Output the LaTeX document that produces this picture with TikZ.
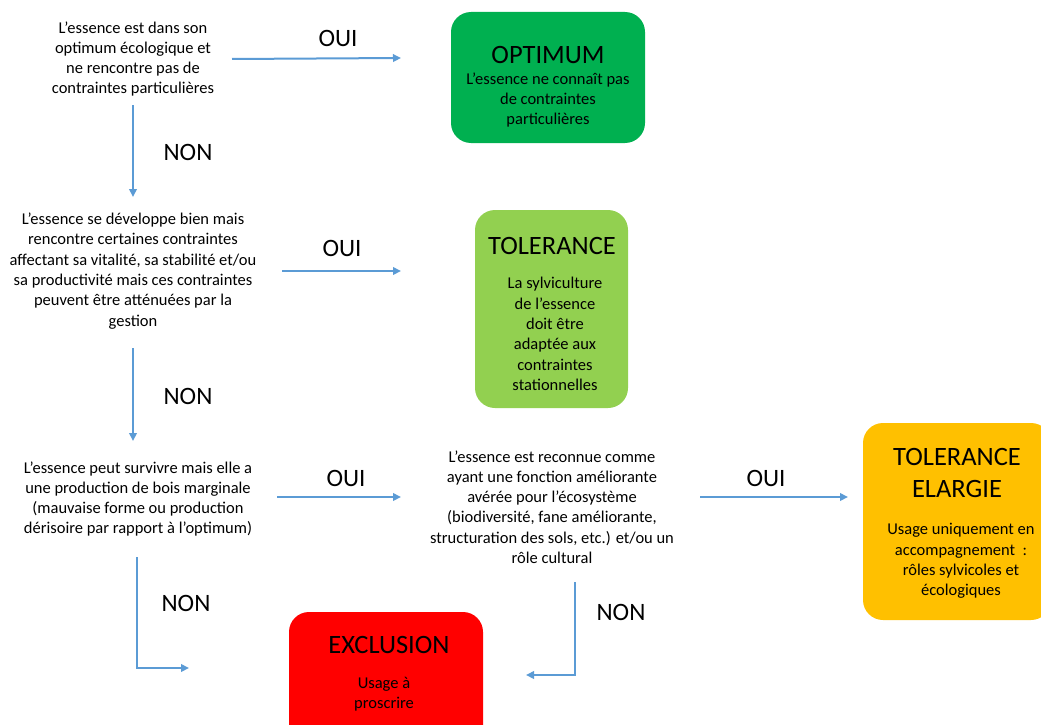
\documentclass[tikz,border=0pt]{standalone}
\usepackage{fontspec}
\setmainfont{Carlito}
\usetikzlibrary{arrows.meta}
\definecolor{arrowblue}{HTML}{5B9BD5}
\definecolor{optgreen}{HTML}{00B050}
\definecolor{tolgreen}{HTML}{92D050}
\definecolor{elargold}{HTML}{FFC000}
\definecolor{exclred}{HTML}{FF0000}
\begin{document}
\begin{tikzpicture}[x=1pt,y=-1pt,
  txt/.style={align=center, inner sep=0pt, font=\fontsize{16.5}{20.3}\selectfont},
  lbl/.style={inner sep=0pt, font=\fontsize{25}{30}\selectfont},
  ttl/.style={align=center, inner sep=0pt, font=\fontsize{26.5}{32}\selectfont},
  card/.style={rounded corners=20pt, inner sep=0pt},
  flow/.style={draw=arrowblue, line width=2pt, -{Triangle[length=8pt,width=7.5pt]}}
]
\useasboundingbox (0,0) rectangle (1041,725);
\clip (0,0) rectangle (1041,725);

% ---- result boxes ----
\node[card, fill=optgreen, minimum width=194pt, minimum height=131pt] (optbox) at (548,77.5) {};
\node[ttl] (opttitle) at (548,55) {OPTIMUM};
\node[txt] (opttext) at (548,100) {L’essence ne connaît pas\\de contraintes\\particulières};

\node[card, fill=tolgreen, minimum width=153pt, minimum height=198pt] (tolbox) at (551.5,309) {};
\node[ttl] (toltitle) at (552,246) {TOLERANCE};
\node[txt] (toltext) at (555,334) {La sylviculture\\de l’essence\\doit être\\adaptée aux\\contraintes\\stationnelles};

\node[card, fill=elargold, minimum width=188pt, minimum height=197pt] (elabox) at (957,521.5) {};
\node[ttl] (elatitle) at (957,473) {TOLERANCE\\ELARGIE};
\node[txt] (elatext) at (961,561) {Usage uniquement en\\accompagnement~~:\\rôles sylvicoles et\\écologiques};

\node[card, fill=exclred, minimum width=194pt, minimum height=140pt] (exclbox) at (386,682) {};
\node[ttl] (excltitle) at (389,645) {EXCLUSION};
\node[txt] (excltext) at (384,694) {Usage à\\proscrire};

% ---- questions ----
\node[txt] (q1) at (133,59) {L’essence est dans son\\optimum écologique et\\ne rencontre pas de\\contraintes particulières};
\node[txt] (q2) at (133,271) {L’essence se développe bien mais\\rencontre certaines contraintes\\affectant sa vitalité, sa stabilité et/ou\\sa productivité mais ces contraintes\\peuvent être atténuées par la\\gestion};
\node[txt] (q3) at (138,499) {L’essence peut survivre mais elle a\\une production de bois marginale\\(mauvaise forme ou production\\dérisoire par rapport à l’optimum)};
\node[txt] (q4) at (552,507) {L’essence est reconnue comme\\ayant une fonction améliorante\\avérée pour l’écosystème\\(biodiversité, fane améliorante,\\structuration des sols, etc.) et/ou un\\rôle cultural};

% ---- connector end points ----
\coordinate (a1s) at (232,59);   \coordinate (a1e) at (401,58);
\coordinate (n1s) at (133,105);  \coordinate (n1e) at (133,197);
\coordinate (a2s) at (282,271);  \coordinate (a2e) at (401,271);
\coordinate (n2s) at (133,348);  \coordinate (n2e) at (133,441);
\coordinate (a3s) at (277,497);  \coordinate (a3e) at (401,497);
\coordinate (a4s) at (700,497);  \coordinate (a4e) at (848,497);
\coordinate (n3s) at (137,557);  \coordinate (n3c) at (137,668); \coordinate (n3e) at (189,668);
\coordinate (n4s) at (575,582);  \coordinate (n4c) at (575,675); \coordinate (n4e) at (526,675);

% ---- connectors ----
\draw[flow] (a1s) -- (a1e);
\draw[flow] (n1s) -- (n1e);
\draw[flow] (a2s) -- (a2e);
\draw[flow] (n2s) -- (n2e);
\draw[flow] (a3s) -- (a3e);
\draw[flow] (a4s) -- (a4e);
\draw[flow] (n3s) -- (n3c) -- (n3e);
\draw[flow] (n4s) -- (n4c) -- (n4e);

% ---- connector labels ----
\node[lbl] (l1) at (338,38) {OUI};
\node[lbl] (l2) at (188,152) {NON};
\node[lbl] (l3) at (342,248) {OUI};
\node[lbl] (l4) at (188,396) {NON};
\node[lbl] (l5) at (346,478) {OUI};
\node[lbl] (l6) at (766,478) {OUI};
\node[lbl] (l7) at (186,603) {NON};
\node[lbl] (l8) at (621,612) {NON};
\end{tikzpicture}
\end{document}
